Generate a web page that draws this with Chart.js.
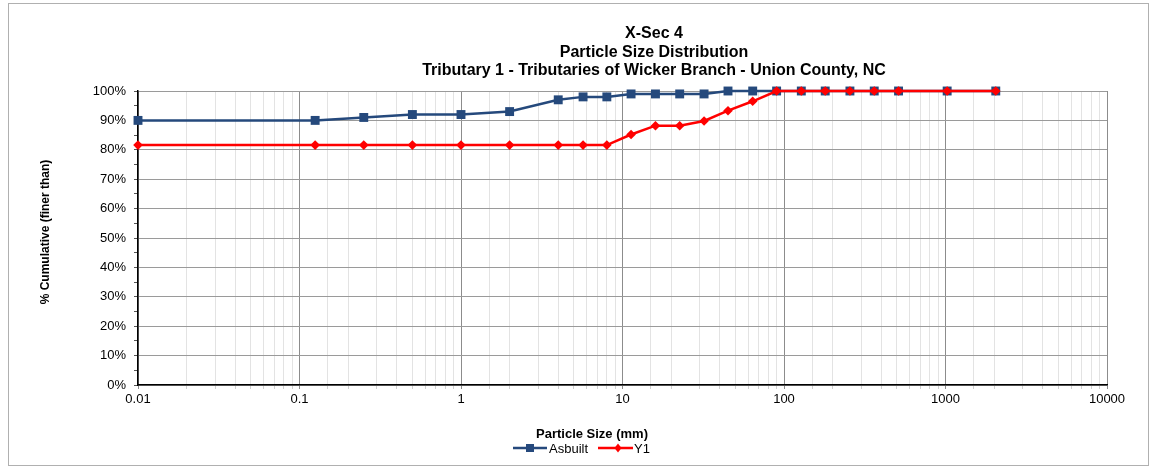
<!DOCTYPE html>
<html>
<head>
<meta charset="utf-8">
<script src="https://cdn.jsdelivr.net/npm/chart.js@4/dist/chart.umd.min.js"></script>
<style>
  html, body { margin: 0; padding: 0; background: #fff; }
  #wrap { position: relative; width: 1154px; height: 469px; }
</style>
</head>
<body>
<div id="wrap"><canvas id="chart" width="1154" height="469"></canvas></div>
<script>
// particle sizes (mm) and cumulative % finer
const particleSizes = [0.01, 0.125, 0.25, 0.5, 1, 2, 4, 5.7, 8, 11.3, 16, 22.6, 32, 45, 64, 90, 128, 180, 256, 362, 512, 1024, 2048];
const asbuilt = [90, 90, 91, 92, 92, 93, 97, 98, 98, 99, 99, 99, 99, 100, 100, 100, 100, 100, 100, 100, 100, 100, 100];
const y1 = [81.6, 81.6, 81.6, 81.6, 81.6, 81.6, 81.6, 81.6, 81.6, 85.2, 88.2, 88.2, 89.8, 93.3, 96.5, 100, 100, 100, 100, 100, 100, 100, 100];
const titleLines = ['X-Sec 4', 'Particle Size Distribution', 'Tributary 1 - Tributaries of Wicker Branch - Union County, NC'];
const xTitle = 'Particle Size (mm)';
const yTitle = '% Cumulative (finer than)';

const BLUE = '#25497c';
const RED = '#ff0000';
const FONT = 'Arial, "Liberation Sans", sans-serif';

function toPoints(values) {
  return particleSizes.map((s, i) => ({ x: s, y: values[i] }));
}

function isDecade(v) {
  const l = Math.log10(v);
  return Math.abs(l - Math.round(l)) < 1e-6;
}

// titles, axis labels, legend and outer frame
const decorations = {
  id: 'decorations',
  beforeDraw(chart) {
    const ctx = chart.ctx;
    ctx.save();
    ctx.fillStyle = '#fff';
    ctx.fillRect(0, 0, chart.width, chart.height);
    ctx.strokeStyle = '#b0b0b0';
    ctx.lineWidth = 1;
    ctx.strokeRect(8.5, 3.5, 1140, 462);
    ctx.restore();
  },
  afterDraw(chart) {
    const ctx = chart.ctx;
    ctx.save();
    ctx.fillStyle = '#000';
    ctx.textAlign = 'center';
    ctx.textBaseline = 'alphabetic';
    ctx.font = 'bold 16px ' + FONT;
    titleLines.forEach((t, i) => ctx.fillText(t, 654, 38 + i * 18.6));

    ctx.font = 'bold 13px ' + FONT;
    ctx.fillText(xTitle, 592, 438);

    ctx.save();
    ctx.translate(46, 232);
    ctx.rotate(-Math.PI / 2);
    ctx.font = 'bold 12px ' + FONT;
    ctx.textBaseline = 'middle';
    ctx.fillText(yTitle, 0, 0);
    ctx.restore();

    // legend
    ctx.font = '13px ' + FONT;
    ctx.textAlign = 'left';
    ctx.lineWidth = 2.5;
    ctx.strokeStyle = BLUE;
    ctx.beginPath(); ctx.moveTo(513, 448); ctx.lineTo(547, 448); ctx.stroke();
    ctx.fillStyle = BLUE;
    ctx.fillRect(526, 444, 8, 8);
    ctx.fillStyle = '#000';
    ctx.fillText('Asbuilt', 549, 452.5);

    ctx.strokeStyle = RED;
    ctx.beginPath(); ctx.moveTo(598, 448); ctx.lineTo(633, 448); ctx.stroke();
    ctx.fillStyle = RED;
    ctx.beginPath();
    ctx.moveTo(618, 443.5); ctx.lineTo(621.5, 448); ctx.lineTo(618, 452.5); ctx.lineTo(614.5, 448);
    ctx.closePath(); ctx.fill();
    ctx.fillStyle = '#000';
    ctx.fillText('Y1', 634, 452.5);
    ctx.restore();
  }
};

new Chart(document.getElementById('chart'), {
  type: 'line',
  data: {
    datasets: [
      {
        label: 'Asbuilt',
        data: toPoints(asbuilt),
        borderColor: BLUE,
        backgroundColor: BLUE,
        borderWidth: 2.5,
        pointStyle: 'rect',
        pointRadius: 6.3,
        pointBorderWidth: 0,
        clip: false,
        order: 1
      },
      {
        label: 'Y1',
        data: toPoints(y1),
        borderColor: RED,
        backgroundColor: RED,
        borderWidth: 2.5,
        pointStyle: 'rectRot',
        pointRadius: 4.8,
        pointBorderWidth: 0,
        clip: false,
        order: 0
      }
    ]
  },
  options: {
    responsive: false,
    animation: false,
    devicePixelRatio: 1,
    layout: { padding: { top: 91, right: 47, bottom: 54, left: 78 } },
    plugins: {
      legend: { display: false },
      title: { display: false },
      tooltip: { enabled: false }
    },
    scales: {
      x: {
        type: 'logarithmic',
        min: 0.01,
        max: 10000,
        afterFit(scale) { scale.height = 30; },
        border: { color: '#000', width: 1.5 },
        grid: {
          color: ctx => isDecade(ctx.tick.value) ? '#8c8c8c' : '#e3e3e3',
          tickColor: ctx => isDecade(ctx.tick.value) ? '#8c8c8c' : '#d0d0d0',
          tickLength: 4
        },
        ticks: {
          autoSkip: false,
          maxRotation: 0,
          padding: 3,
          color: '#000',
          font: { family: FONT, size: 13 },
          callback: v => isDecade(v) ? String(Number(v.toPrecision(6))) : ''
        }
      },
      y: {
        min: 0,
        max: 100,
        afterFit(scale) { scale.width = 60; },
        border: { color: '#000', width: 1.5 },
        grid: {
          color: ctx => ctx.tick.value % 10 === 0 ? '#9a9a9a' : 'rgba(0,0,0,0)',
          tickColor: '#555',
          tickLength: 4
        },
        ticks: {
          stepSize: 5,
          autoSkip: false,
          padding: 8,
          color: '#000',
          font: { family: FONT, size: 13 },
          callback: v => v % 10 === 0 ? v + '%' : ''
        }
      }
    }
  },
  plugins: [decorations]
});
</script>
</body>
</html>
